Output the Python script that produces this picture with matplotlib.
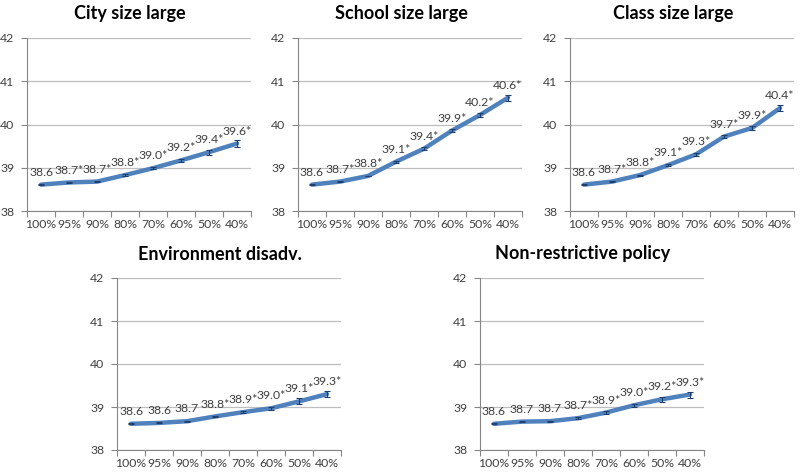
import matplotlib
matplotlib.use("Agg")
import matplotlib.pyplot as plt
import numpy as np

plt.rcParams['font.family'] = ['Lato', 'DejaVu Sans']

categories = ["100%", "95%", "90%", "80%", "70%", "60%", "50%", "40%"]

titles = ["City size large", "School size large", "Class size large",
          "Environment disadv.", "Non-restrictive policy"]

city_vals = [38.61, 38.66, 38.68, 38.83, 38.99, 39.17, 39.36, 39.56]
city_err = [0.01, 0.01, 0.01, 0.02, 0.03, 0.04, 0.06, 0.09]
city_sig = [False, True, True, True, True, True, True, True]

school_vals = [38.61, 38.68, 38.81, 39.14, 39.44, 39.86, 40.22, 40.62]
school_err = [0.01, 0.01, 0.01, 0.02, 0.03, 0.04, 0.05, 0.07]
school_sig = [False, True, True, True, True, True, True, True]

class_vals = [38.61, 38.68, 38.83, 39.06, 39.31, 39.72, 39.92, 40.38]
class_err = [0.01, 0.01, 0.01, 0.02, 0.03, 0.04, 0.05, 0.07]
class_sig = [False, True, True, True, True, True, True, True]

env_vals = [38.61, 38.63, 38.67, 38.78, 38.88, 38.97, 39.13, 39.30]
env_err = [0.01, 0.01, 0.01, 0.02, 0.03, 0.04, 0.07, 0.07]
env_sig = [False, False, False, True, True, True, True, True]

pol_vals = [38.61, 38.66, 38.67, 38.74, 38.87, 39.04, 39.18, 39.29]
pol_err = [0.01, 0.01, 0.01, 0.02, 0.03, 0.04, 0.06, 0.07]
pol_sig = [False, False, False, True, True, True, True, True]

series = [(city_vals, city_err, city_sig), (school_vals, school_err, school_sig),
          (class_vals, class_err, class_sig), (env_vals, env_err, env_sig),
          (pol_vals, pol_err, pol_sig)]

W, H = 800, 474
fig = plt.figure(figsize=(W / 100, H / 100), dpi=100)

# axes rectangles in pixels: left, top, width, height
rects_px = [(27, 38, 224, 173), (298, 38, 224, 173), (570, 38, 224, 173),
            (117, 278, 224, 172), (480, 278, 224, 172)]

line_color = "#4F81BD"
grid_color = "#BEBEBE"
text_color = "#404040"

for (l, t, w, h), title, (vals, errs, sig) in zip(rects_px, titles, series):
    ax = fig.add_axes([l / W, 1 - (t + h) / H, w / W, h / H])
    x = np.arange(len(categories))
    ax.plot(x, vals, color=line_color, lw=3.2, solid_capstyle='round',
            solid_joinstyle='round', zorder=3)
    ax.errorbar(x, vals, yerr=errs, fmt='none', ecolor="#1F3F6F", elinewidth=0.8,
                capsize=2.2, capthick=0.8, zorder=4)
    for xi, v, s in zip(x, vals, sig):
        lab = f"{v:.1f}" + ("*" if s else "")
        ax.annotate(lab, (xi, v), xytext=(0, 5), textcoords='offset points',
                    ha='center', va='bottom', fontsize=8.8, color=text_color, zorder=5)
    ax.set_xlim(-0.5, len(categories) - 0.5)
    ax.set_ylim(38, 42)
    ax.set_yticks([38, 39, 40, 41, 42])
    ax.set_yticklabels(["38", "39", "40", "41", "42"])
    ax.set_xticks(x)
    ax.set_xticklabels(categories)
    ax.set_xticks(np.arange(len(categories) + 1) - 0.5, minor=True)
    ax.tick_params(axis='x', which='major', length=0, labelsize=8.8, colors=text_color, pad=6)
    ax.tick_params(axis='x', which='minor', length=4, color="#868686", width=0.8)
    ax.tick_params(axis='y', length=4, color="#868686", width=0.8, labelsize=8.8,
                   colors=text_color, pad=5)
    ax.yaxis.grid(True, color=grid_color, lw=0.9)
    ax.set_axisbelow(True)
    for sp in ['top', 'right']:
        ax.spines[sp].set_visible(False)
    for sp in ['left', 'bottom']:
        ax.spines[sp].set_color("#868686")
        ax.spines[sp].set_linewidth(0.8)
    ax.text(0.46, 1 + 24 / h, title, transform=ax.transAxes, ha='center', va='center',
            fontsize=13, fontweight='bold', color='black')

fig.savefig("out.png", dpi=100)
